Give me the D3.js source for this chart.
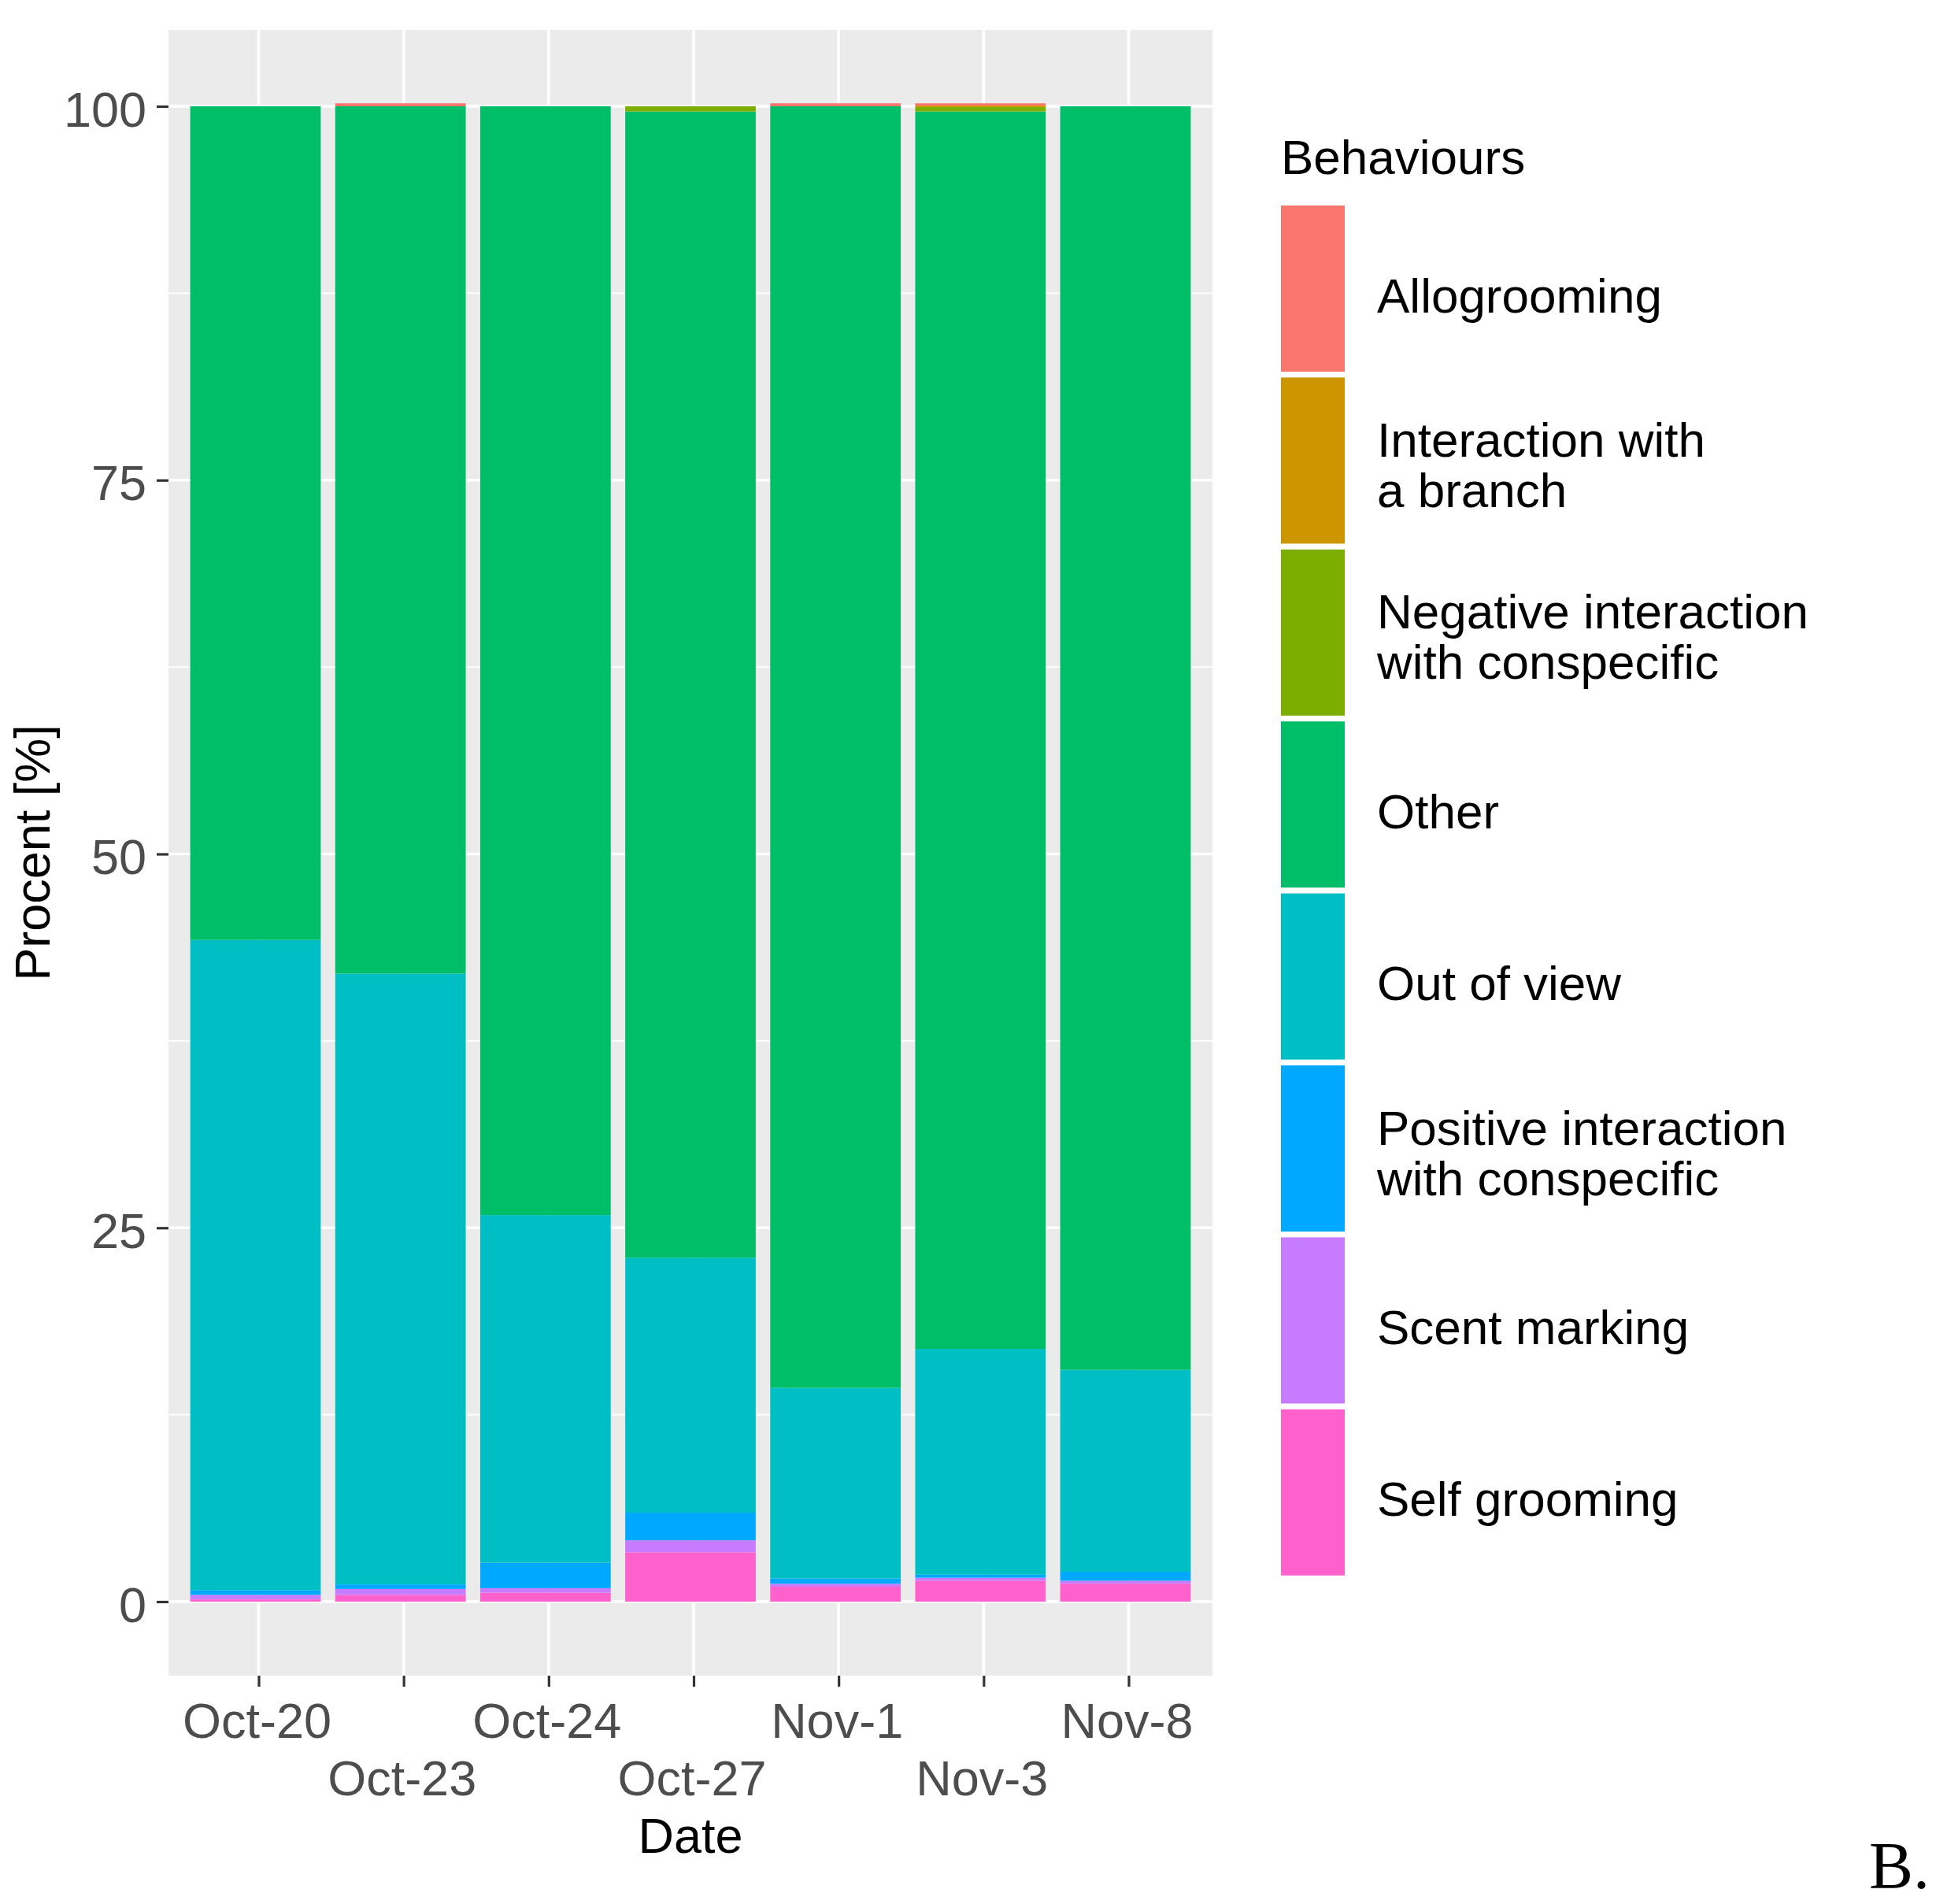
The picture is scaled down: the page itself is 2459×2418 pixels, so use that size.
<!DOCTYPE html>
<html>
<head>
<meta charset="utf-8">
<script src="https://cdn.jsdelivr.net/npm/d3@7"></script>
<style>
  html, body { margin: 0; padding: 0; background: #ffffff; }
  svg { display: block; }
</style>
</head>
<body>
<svg id="chart" width="2459" height="2418"></svg>
<script>
// ---------------- data ----------------
const dates = ["Oct-20", "Oct-23", "Oct-24", "Oct-27", "Nov-1", "Nov-3", "Nov-8"];
const yTicks = [0, 25, 50, 75, 100];
const yMinor = [12.5, 37.5, 62.5, 87.5];

// percent values per behaviour, one per date
const selfGrooming        = [0.15, 0.45, 0.6, 3.3, 1.0, 1.4, 1.2];
const scentMarking        = [0.3, 0.4, 0.3, 0.8, 0.2, 0.2, 0.2];
const positiveInteraction = [0.3, 0.3, 1.7, 1.85, 0.35, 0.2, 0.6];
const outOfView           = [43.5, 40.85, 23.25, 17.05, 12.75, 15.1, 13.5];
const other               = [55.75, 58.0, 74.15, 76.65, 85.7, 82.75, 84.5];
const negativeInteraction = [0, 0, 0, 0.35, 0, 0.3, 0];
const branchInteraction   = [0, 0, 0, 0, 0, 0.1, 0];
const allogrooming        = [0, 0.2, 0, 0, 0.2, 0.15, 0];

// legend order (top to bottom) – also the stacking order from the top
const behaviours = [
  "Allogrooming",
  "Interaction with\na branch",
  "Negative interaction\nwith conspecific",
  "Other",
  "Out of view",
  "Positive interaction\nwith conspecific",
  "Scent marking",
  "Self grooming"
];
const seriesValues = [
  allogrooming, branchInteraction, negativeInteraction, other,
  outOfView, positiveInteraction, scentMarking, selfGrooming
];
const colours = ["#F8766D", "#CD9600", "#7CAE00", "#00BE67", "#00BFC4", "#00A9FF", "#C77CFF", "#FF61CC"];

// ---------------- layout ----------------
const svg = d3.select("#chart");
const panel = { left: 214, right: 1540, top: 38, bottom: 2128 };
const font = "'Liberation Sans', Arial, Helvetica, sans-serif";

const x = d3.scaleBand().domain(dates).range([panel.left, panel.right])
  .paddingInner(0.1).paddingOuter(0.15);
const y = d3.scaleLinear().domain([0, 100]).range([2034, 135]);
const gridShift = 4;
const xc = d => x(d) + x.bandwidth() / 2 + gridShift;

const colour = d3.scaleOrdinal().domain(behaviours).range(colours);

// panel background
svg.append("rect")
  .attr("x", panel.left).attr("y", panel.top)
  .attr("width", panel.right - panel.left).attr("height", panel.bottom - panel.top)
  .attr("fill", "#EBEBEB");

// minor gridlines
svg.append("g").selectAll("line").data(yMinor).join("line")
  .attr("x1", panel.left).attr("x2", panel.right)
  .attr("y1", d => y(d)).attr("y2", d => y(d))
  .attr("stroke", "#ffffff").attr("stroke-width", 1.8);

// major gridlines
svg.append("g").selectAll("line").data(yTicks).join("line")
  .attr("x1", panel.left).attr("x2", panel.right)
  .attr("y1", d => y(d)).attr("y2", d => y(d))
  .attr("stroke", "#ffffff").attr("stroke-width", 3.6);
svg.append("g").selectAll("line").data(dates).join("line")
  .attr("x1", d => xc(d)).attr("x2", d => xc(d))
  .attr("y1", panel.top).attr("y2", panel.bottom)
  .attr("stroke", "#ffffff").attr("stroke-width", 3.6);

// stacked bars
const rows = dates.map((d, i) => {
  const r = { date: d };
  behaviours.forEach((b, j) => { r[b] = seriesValues[j][i]; });
  return r;
});
const stackKeys = behaviours.slice().reverse(); // bottom to top
const stacked = d3.stack().keys(stackKeys)(rows);

svg.append("g").selectAll("g").data(stacked).join("g")
  .attr("fill", s => colour(s.key))
  .selectAll("rect").data(s => s).join("rect")
  .attr("x", d => x(d.data.date))
  .attr("width", x.bandwidth())
  .attr("y", d => y(d[1]))
  .attr("height", d => Math.max(0, y(d[0]) - y(d[1])));

// y axis
const yAxis = d3.axisLeft(y).tickValues(yTicks).tickSize(15).tickPadding(13);
const gy = svg.append("g").attr("transform", `translate(${panel.left},0)`).call(yAxis);
gy.select(".domain").remove();
gy.selectAll(".tick line").attr("stroke", "#333333").attr("stroke-width", 3.2);
gy.selectAll(".tick text")
  .attr("fill", "#4D4D4D").attr("font-family", font).attr("font-size", 63)
  .attr("dy", "0.4em");

// x axis with dodged labels
const xAxis = d3.axisBottom(d3.scalePoint().domain(dates)
  .range([xc(dates[0]), xc(dates[dates.length - 1])])).tickSize(14).tickFormat("");
const gx = svg.append("g").attr("transform", `translate(0,${panel.bottom})`).call(xAxis);
gx.select(".domain").remove();
gx.selectAll(".tick line").attr("stroke", "#333333").attr("stroke-width", 3.2);
svg.append("g").selectAll("text").data(dates).join("text")
  .attr("x", d => xc(d) - 2)
  .attr("y", (d, i) => i % 2 === 0 ? 2207 : 2280)
  .attr("text-anchor", "middle")
  .attr("fill", "#4D4D4D").attr("font-family", font).attr("font-size", 63)
  .text(d => d);

// axis titles
svg.append("text")
  .attr("x", (panel.left + panel.right) / 2).attr("y", 2353)
  .attr("text-anchor", "middle").attr("fill", "#000000")
  .attr("font-family", font).attr("font-size", 63)
  .text("Date");
svg.append("text")
  .attr("transform", `translate(63,${(panel.top + panel.bottom) / 2}) rotate(-90)`)
  .attr("text-anchor", "middle").attr("fill", "#000000")
  .attr("font-family", font).attr("font-size", 63)
  .text("Procent [%]");

// legend
const legend = svg.append("g");
legend.append("text")
  .attr("x", 1627).attr("y", 221)
  .attr("fill", "#000000").attr("font-family", font).attr("font-size", 62)
  .text("Behaviours");
const keyTop = 261, keyPitch = 218.4, keyH = 211, keyW = 81;
const items = legend.selectAll("g.item").data(behaviours).join("g")
  .attr("class", "item")
  .attr("transform", (d, i) => `translate(1627,${keyTop + i * keyPitch})`);
items.append("rect")
  .attr("width", keyW).attr("height", keyH)
  .attr("fill", d => colour(d));
items.each(function (d) {
  const lines = d.split("\n");
  const g = d3.select(this);
  const c = keyH / 2;
  const t = g.append("text")
    .attr("fill", "#000000").attr("font-family", font).attr("font-size", 62);
  if (lines.length === 1) {
    t.append("tspan").attr("x", 122).attr("y", c + 30).text(lines[0]);
  } else {
    t.append("tspan").attr("x", 122).attr("y", c - 5).text(lines[0]);
    t.append("tspan").attr("x", 122).attr("y", c + 59).text(lines[1]);
  }
});

// panel label
svg.append("text")
  .attr("x", 2374).attr("y", 2398)
  .attr("fill", "#000000").attr("font-family", "'Liberation Serif', 'Times New Roman', serif")
  .attr("font-size", 84)
  .text("B.");
</script>
</body>
</html>
